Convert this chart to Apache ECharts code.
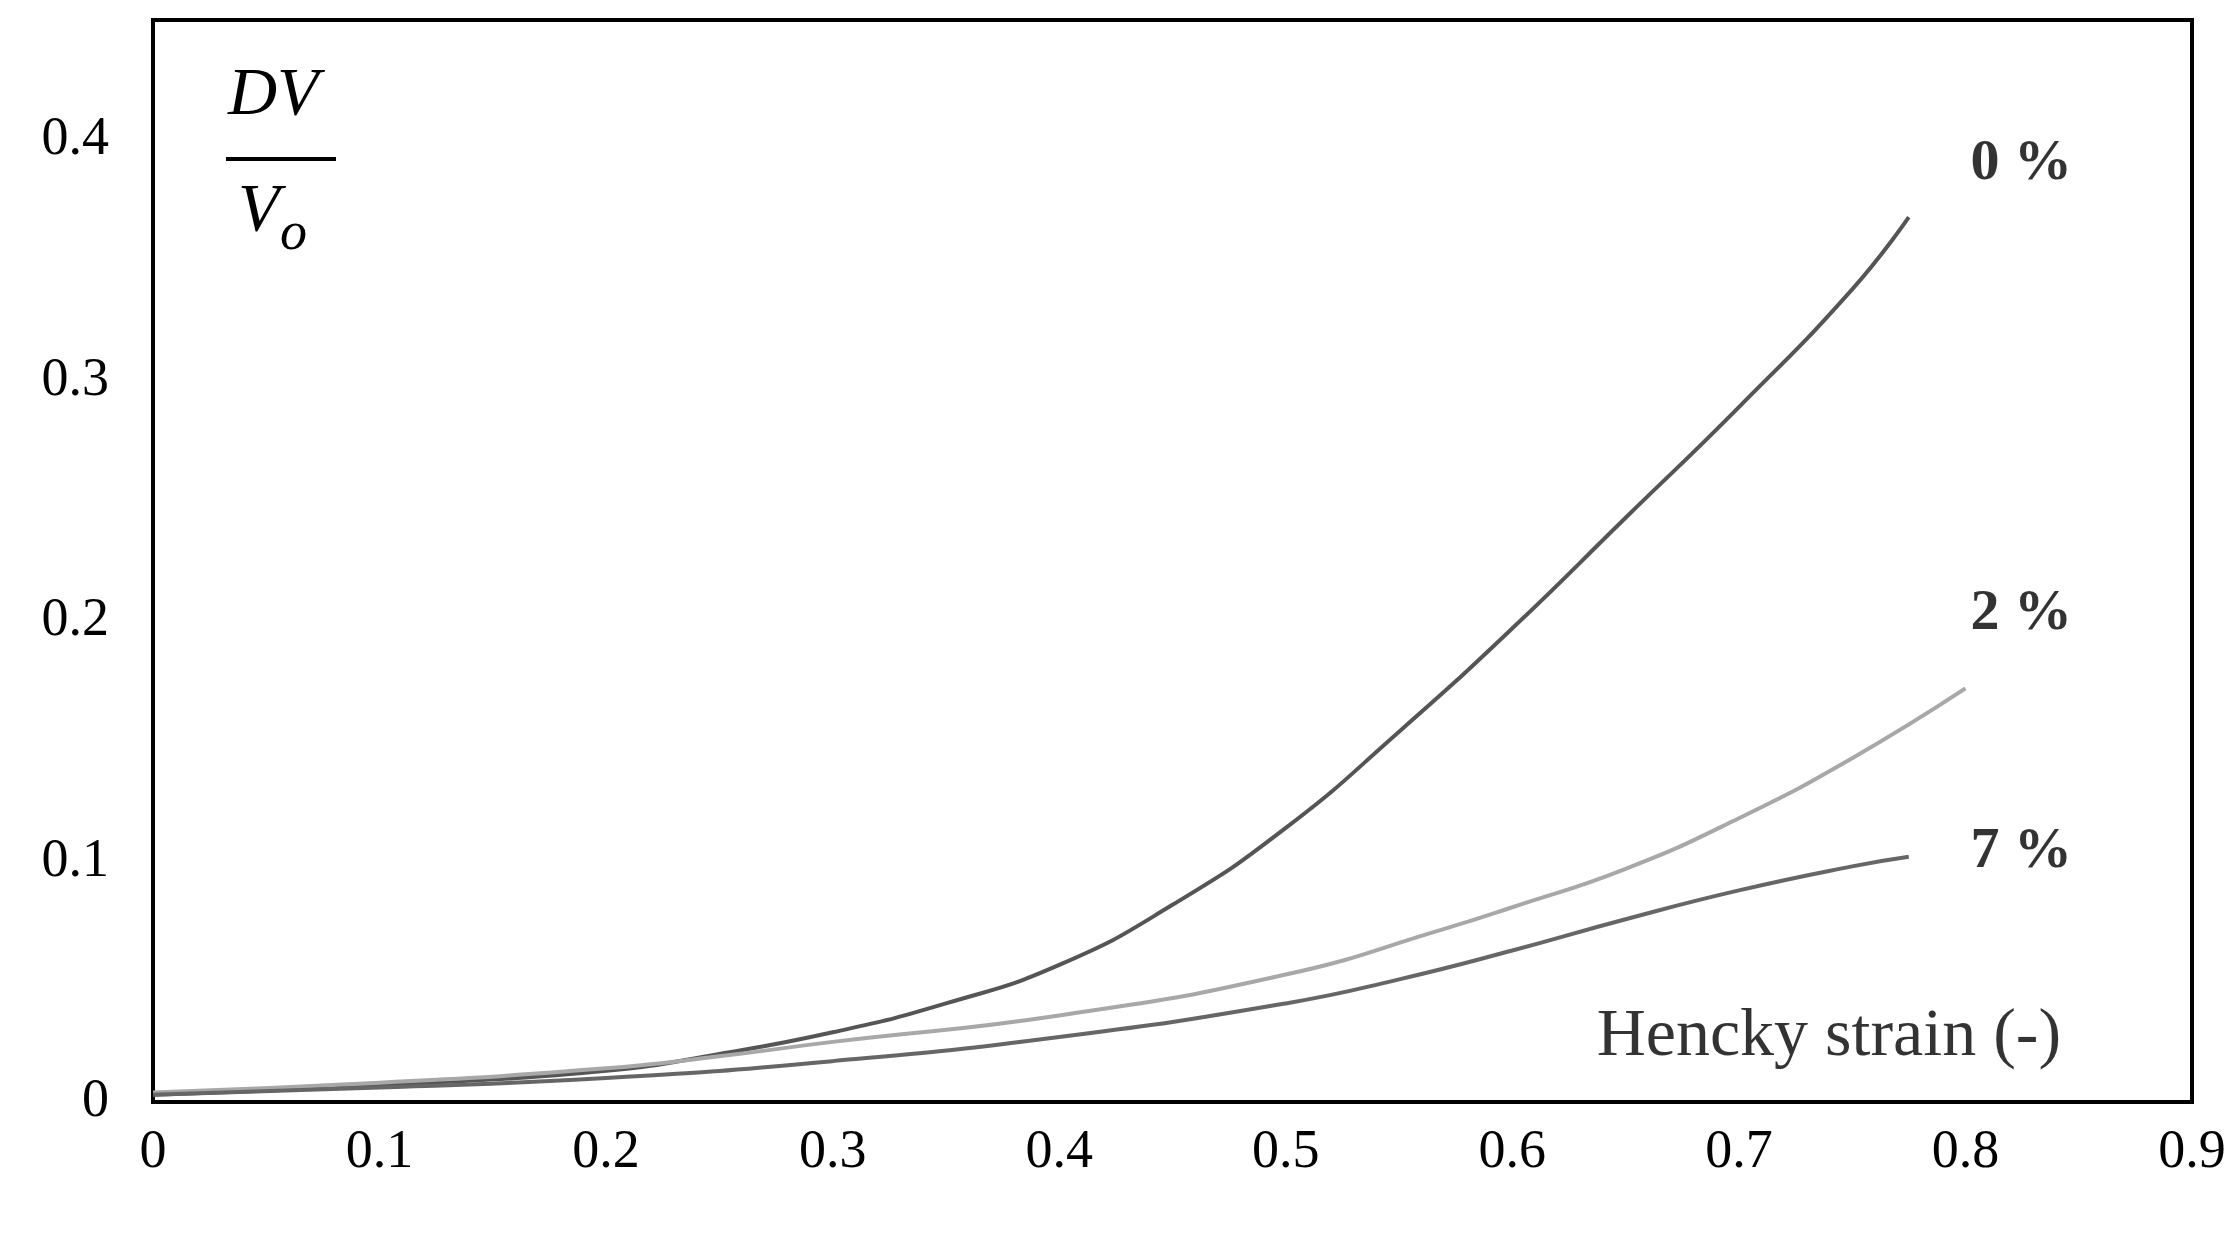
<!DOCTYPE html><html><head><meta charset="utf-8">
<script src="https://cdn.jsdelivr.net/npm/echarts@6/dist/echarts.min.js"></script>
<style>html,body{margin:0;background:#fff}#c{width:2236px;height:1236px}</style></head><body><div id="c"></div>
<script>
const xTicks=[0,0.1,0.2,0.3,0.4,0.5,0.6,0.7,0.8,0.9];
const s0=[[0,0.003],[0.1,0.007],[0.2,0.013],[0.25,0.02],[0.3,0.029],[0.35,0.041],[0.4,0.057],[0.45,0.082],[0.5,0.114],[0.55,0.154],[0.6,0.197],[0.65,0.243],[0.7,0.289],[0.75,0.338],[0.775,0.368]];
const s2=[[0,0.004],[0.1,0.008],[0.2,0.014],[0.25,0.019],[0.3,0.025],[0.4,0.036],[0.5,0.053],[0.57,0.072],[0.6,0.081],[0.65,0.097],[0.7,0.118],[0.75,0.143],[0.8,0.172]];
const s7=[[0,0.003],[0.1,0.006],[0.2,0.01],[0.3,0.017],[0.4,0.027],[0.5,0.041],[0.55,0.051],[0.6,0.063],[0.65,0.076],[0.7,0.088],[0.75,0.098],[0.775,0.102]];
const curveLabels=[['0 %',0.8,0.39],['2 %',0.8,0.203],['7 %',0.8,0.104]];
const xName=['Hencky strain (-)',0.635,0.027];
const F='"Liberation Serif","Times New Roman",serif';
const ch=echarts.init(document.getElementById('c'));
const line=(d,c)=>({type:'line',data:d,smooth:true,showSymbol:false,lineStyle:{color:c,width:4},silent:true});
ch.setOption({animation:false,
grid:{left:153,right:44,top:20,bottom:134,show:true,borderColor:'#000',borderWidth:4},
xAxis:{type:'value',min:0,max:0.9,interval:0.1,axisLine:{lineStyle:{color:'#000',width:4}},axisTick:{show:false},splitLine:{show:false},
 axisLabel:{fontFamily:F,fontSize:54,color:'#000',margin:24,formatter:v=>String(+v.toFixed(1))}},
yAxis:{type:'value',min:0,max:0.45,interval:0.1,axisLine:{show:true,lineStyle:{color:'#000',width:4}},axisTick:{show:false},splitLine:{show:false},
 axisLabel:{fontFamily:F,fontSize:54,color:'#000',margin:44,showMaxLabel:false,formatter:v=>v>0.44?'':String(+v.toFixed(1))}},
series:[line(s0,'#555'),line(s2,'#a8a8a8'),line(s7,'#666'),
 {type:'scatter',symbolSize:0,data:curveLabels.map(l=>({value:[l[1],l[2]],name:l[0]})),
  label:{show:true,formatter:p=>p.name,position:'right',fontFamily:F,fontWeight:'bold',fontSize:58,color:'#000'}},
 {type:'scatter',symbolSize:0,data:[{value:[xName[1],xName[2]],name:xName[0]}],
  label:{show:true,formatter:p=>p.name,position:'right',fontFamily:F,fontSize:68,color:'#000'}}],
graphic:[{type:'text',left:228,top:62,style:{text:'DV',font:'italic 68px "Liberation Serif",serif',fill:'#000'}},
 {type:'rect',left:226,top:157,shape:{width:110,height:4},style:{fill:'#000'}},
 {type:'text',left:238,top:178,style:{text:'V',font:'italic 68px "Liberation Serif",serif',fill:'#000'}},
 {type:'text',left:280,top:208,style:{text:'o',font:'italic 54px "Liberation Serif",serif',fill:'#000'}}]
});
</script></body></html>
